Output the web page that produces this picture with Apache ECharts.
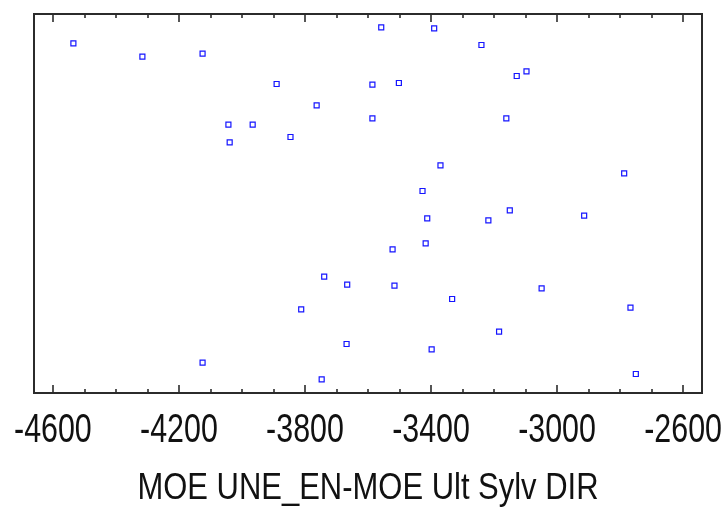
<!DOCTYPE html>
<html>
<head>
<meta charset="utf-8">
<script src="https://cdn.jsdelivr.net/npm/echarts@6/dist/echarts.min.js"></script>
<style>
  html, body { margin: 0; padding: 0; background: #fff; }
  #chart { width: 724px; height: 507px; }
</style>
</head>
<body>
<div id="chart"></div>
<script>
// Scatter of MOE UNE_EN-MOE Ult Sylv DIR against an unlabelled vertical measure
const xVals = [
  -4535, -4316, -4125, -3890, -3763, -4043, -3966, -3846, -4039, -3558,
  -3390, -3240, -3586, -3502, -3128, -3097, -3586, -3161, -3370, -2787,
  -3427, -3739, -3666, -3812, -3668, -4125, -3747, -3412, -3218, -3150,
  -2914, -3417, -3522, -3516, -3049, -3333, -2767, -3184, -3398, -2750
];
const yVals = [
  349.7, 336.3, 339.3, 309.0, 287.7, 268.3, 268.3, 256.0, 250.7, 365.7,
  364.7, 348.0, 308.3, 310.0, 317.0, 321.7, 274.7, 274.7, 227.7, 219.7,
  202.0, 116.3, 108.3, 83.7, 49.0, 30.3, 13.7, 174.7, 172.7, 182.7,
  177.3, 149.7, 143.7, 107.3, 104.7, 94.0, 85.3, 61.3, 43.7, 19.0
];
const majorTicks = [-4600, -4200, -3800, -3400, -3000, -2600];
const minorTicks = [
  -4500, -4400, -4300, -4100, -4000, -3900, -3700, -3600, -3500,
  -3300, -3200, -3100, -2900, -2800, -2700
];
const xTitle = 'MOE UNE_EN-MOE Ult Sylv DIR';
const xMin = -4660, xMax = -2540;
const yMin = 0, yMax = 379;

const points = xVals.map((x, i) => [x, yVals[i]]);
const ink = '#2b2b2b';
const textFont = "'Liberation Sans', Arial, sans-serif";

function tickAxis(position, values, len) {
  return {
    type: 'value',
    position: position,
    min: xMin,
    max: xMax,
    axisLine: { show: false, onZero: false },
    splitLine: { show: false },
    axisTick: {
      show: true, inside: true, length: len, customValues: values,
      lineStyle: { color: ink, width: 1.6 }
    },
    axisLabel: { show: false }
  };
}

const chart = echarts.init(document.getElementById('chart'), null, { renderer: 'canvas' });
chart.setOption({
  animation: false,
  backgroundColor: '#fff',
  grid: {
    left: 34, top: 14, right: 22, bottom: 114,
    outerBoundsMode: 'none', containLabel: false,
    show: true, borderColor: ink, borderWidth: 2, backgroundColor: 'transparent'
  },
  xAxis: [
    tickAxis('bottom', majorTicks, 8),
    tickAxis('bottom', minorTicks, 4),
    tickAxis('top', majorTicks, 8),
    tickAxis('top', minorTicks, 4)
  ],
  yAxis: {
    type: 'value', min: yMin, max: yMax,
    axisLine: { show: false }, axisTick: { show: false },
    axisLabel: { show: false }, splitLine: { show: false }
  },
  series: [{
    type: 'scatter',
    xAxisIndex: 0,
    data: points,
    symbol: 'rect',
    symbolSize: 5,
    itemStyle: { color: '#ffffff', borderColor: '#1515ff', borderWidth: 1.2, opacity: 1 }
  }]
});

// Tick labels and axis title in a condensed face: placed via the axis scale,
// squeezed horizontally around their own anchor.
const labelY = chart.convertToPixel({ yAxisIndex: 0 }, yMin) + 38;
const tickTexts = majorTicks.map(v => ({
  type: 'text',
  x: chart.convertToPixel({ xAxisIndex: 0 }, v),
  y: labelY,
  scaleX: 0.76,
  silent: true,
  style: {
    text: String(v), x: 0, y: 0,
    align: 'center', verticalAlign: 'middle',
    font: '40px ' + textFont, fill: '#111'
  }
}));
const gridMid = (chart.convertToPixel({ xAxisIndex: 0 }, xMin) +
                 chart.convertToPixel({ xAxisIndex: 0 }, xMax)) / 2;
const titleText = {
  type: 'text',
  x: gridMid,
  y: labelY + 58,
  scaleX: 0.86,
  silent: true,
  style: {
    text: xTitle, x: 0, y: 0,
    align: 'center', verticalAlign: 'middle',
    font: '36px ' + textFont, fill: '#111'
  }
};
chart.setOption({ graphic: tickTexts.concat([titleText]) });
</script>
</body>
</html>
